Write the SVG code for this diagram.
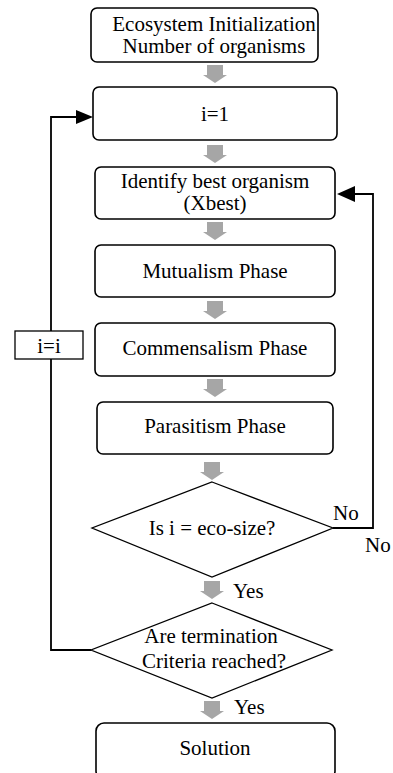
<svg xmlns="http://www.w3.org/2000/svg" width="393" height="773" viewBox="0 0 393 773">
<style>
.box{fill:#fff;stroke:#000;stroke-width:1.6}
.dia{fill:#fff;stroke:#000;stroke-width:1.3}
.t{font-family:"Liberation Serif","Times New Roman",serif;font-size:21px;fill:#000;text-anchor:middle}
.tl{font-family:"Liberation Serif","Times New Roman",serif;font-size:21px;fill:#000}
.ln{fill:none;stroke:#000;stroke-width:1.8}
.ga{fill:#a6a6a6}
</style>
<defs>
<path id="garrow" d="M-8,0 H8 V10 H12 L0,18 L-12,10 H-8 Z"/>
</defs>
<g id="connectors">
<use href="#garrow" class="ga" x="215" y="65"/>
<use href="#garrow" class="ga" x="215" y="145"/>
<use href="#garrow" class="ga" x="215" y="222"/>
<use href="#garrow" class="ga" x="215" y="301"/>
<use href="#garrow" class="ga" x="215" y="379"/>
<use href="#garrow" class="ga" x="212" y="462"/>
<use href="#garrow" class="ga" x="212" y="581"/>
<use href="#garrow" class="ga" x="212" y="701"/>
<polyline class="ln" points="91,650 51,650 51,117 77,117"/>
<polygon points="93,117 76,110 76,124" fill="#000"/>
<polyline class="ln" points="333,528 373,528 373,194 354,194"/>
<polygon points="337,194 355,186 355,202" fill="#000"/>
</g>
<g id="n1"><rect class="box" x="91" y="8" width="227" height="54" rx="6"/>
<text class="t" x="214" y="31">Ecosystem Initialization</text>
<text class="t" x="214" y="53">Number of organisms</text></g>
<g id="n2"><rect class="box" x="93" y="87" width="244" height="53" rx="6"/>
<text class="t" x="215" y="121">i=1</text></g>
<g id="n3"><rect class="box" x="95" y="167" width="240" height="52" rx="6"/>
<text class="t" x="215" y="188">Identify best organism</text>
<text class="t" x="215" y="210">(Xbest)</text></g>
<g id="n4"><rect class="box" x="95" y="245" width="240" height="52" rx="6"/>
<text class="t" x="215" y="278">Mutualism Phase</text></g>
<g id="n5"><rect class="box" x="95" y="323" width="240" height="53" rx="6"/>
<text class="t" x="215" y="355">Commensalism Phase</text></g>
<g id="n6"><rect class="box" x="97" y="402" width="236" height="52" rx="6"/>
<text class="t" x="215" y="433">Parasitism Phase</text></g>
<g id="d1"><polygon class="dia" points="212,482 333,528 212,577 92,528"/>
<text class="t" x="212" y="535">Is i = eco-size?</text></g>
<g id="d2"><polygon class="dia" points="212,603 332,650 212,698 91,650"/>
<text class="t" x="211" y="643">Are termination</text>
<text class="t" x="214" y="668">Criteria reached?</text></g>
<g id="n7"><rect class="box" x="96" y="723" width="239" height="56" rx="8"/>
<text class="t" x="215" y="755">Solution</text></g>
<g id="lbl-ii"><rect x="15" y="331" width="68" height="28" fill="#fff" stroke="#000" stroke-width="1.3"/>
<text class="t" x="49" y="353">i=i</text></g>
<g id="labels">
<text class="tl" x="333" y="520">No</text>
<text class="tl" x="365" y="552">No</text>
<text class="tl" x="233" y="598">Yes</text>
<text class="tl" x="234" y="714">Yes</text>
</g>
</svg>
